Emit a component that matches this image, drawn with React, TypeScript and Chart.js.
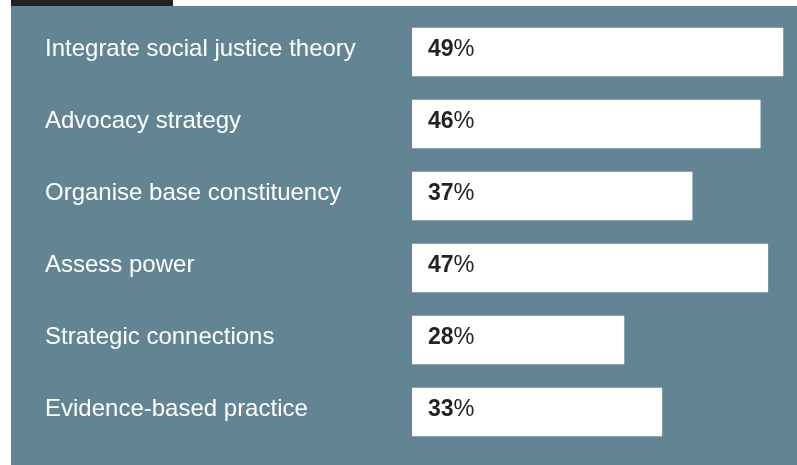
import React, { useEffect, useRef } from "react";
import { Chart, registerables } from "chart.js";

Chart.register(...registerables);

const categories: string[] = [
  "Integrate social justice theory",
  "Advocacy strategy",
  "Organise base constituency",
  "Assess power",
  "Strategic connections",
  "Evidence-based practice",
];
const values: number[] = [49, 46, 37, 47, 28, 33];

const PANEL = "rgb(99,133,147)";
const FONT = '"Liberation Sans", Arial, Helvetica, sans-serif';

const labelPlugin = {
  id: "labelPlugin",
  afterDatasetsDraw(chart: any) {
    const ctx = chart.ctx as CanvasRenderingContext2D;
    const meta = chart.getDatasetMeta(0);
    const yScale = chart.scales.y;
    ctx.save();
    ctx.textBaseline = "middle";
    ctx.textAlign = "left";
    categories.forEach((c, i) => {
      const yc = yScale.getPixelForValue(i);
      ctx.fillStyle = "#ffffff";
      ctx.font = `24px ${FONT}`;
      ctx.fillText(c, 45, yc - 2.5);
      const bar = meta.data[i];
      const x0 = bar.base + 16;
      const num = String(values[i]);
      const y = yc - 2.5;
      ctx.fillStyle = "#232323";
      ctx.font = `bold 23px ${FONT}`;
      ctx.fillText(num, x0, y);
      const w = ctx.measureText(num).width;
      ctx.font = `23.5px ${FONT}`;
      ctx.fillText("%", x0 + w, y);
    });
    ctx.restore();
  },
};

export default function App() {
  const ref = useRef<HTMLCanvasElement | null>(null);
  useEffect(() => {
    if (!ref.current) return;
    const chart = new Chart(ref.current, {
      type: "bar",
      data: {
        labels: categories,
        datasets: [
          {
            data: values,
            backgroundColor: "#ffffff",
            borderWidth: 0,
            barThickness: 48,
          },
        ],
      },
      options: {
        indexAxis: "y",
        animation: false,
        responsive: false,
        maintainAspectRatio: false,
        layout: { padding: { left: 412, right: 6.5, top: 16, bottom: 17 } },
        plugins: { legend: { display: false }, tooltip: { enabled: false } },
        scales: {
          x: { display: false, min: 0, max: 50 },
          y: { display: false, offset: true },
        },
      },
      plugins: [labelPlugin],
    });
    return () => chart.destroy();
  }, []);
  return (
    <div style={{ position: "fixed", left: 0, top: 0, width: 797, height: 465, background: "#fff" }}>
      <div style={{ position: "absolute", left: 11, top: 0, width: 162, height: 6, background: "#222" }} />
      <div style={{ position: "absolute", left: 11, top: 6, width: 786, height: 459, background: PANEL }} />
      <canvas ref={ref} width={797} height={465} style={{ position: "absolute", left: 0, top: 0, width: 797, height: 465 }} />
    </div>
  );
}
